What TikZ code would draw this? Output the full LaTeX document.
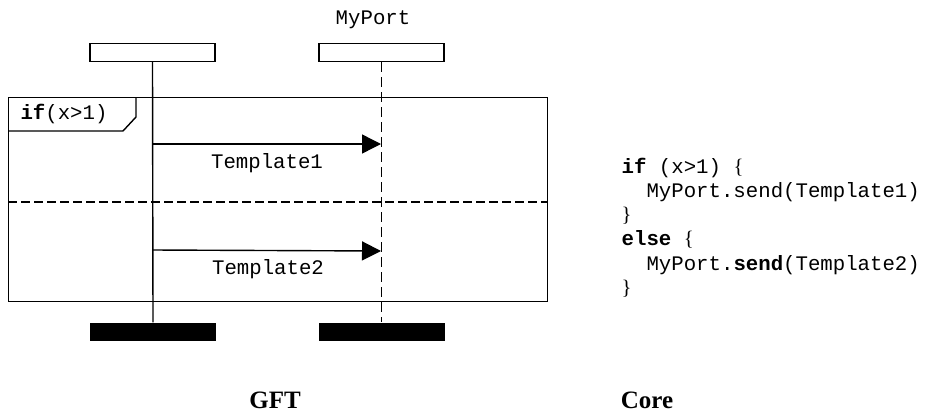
\documentclass[tikz,border=0pt]{standalone}
\usepackage{fontspec}
\setmainfont{Liberation Serif}
\setmonofont{Liberation Mono}
\usetikzlibrary{arrows.meta}
\newcommand\codefont{\fontsize{20.7}{24.3}\selectfont\ttfamily}
\newcommand\capfont{\fontsize{25}{28}\selectfont\bfseries\rmfamily}
\newcommand\brc[1]{{\rmfamily#1}}
\tikzset{
  headbox/.style={draw,minimum width=125pt,minimum height=18pt,inner sep=0pt},
  endbar/.style={fill=black,minimum width=126pt,minimum height=18pt,inner sep=0pt},
  lifeline/.style={dash pattern=on 10pt off 5pt},
  divider/.style={dash pattern=on 9pt off 4pt},
  msg/.style={font=\codefont,inner sep=0pt},
}
\begin{document}
\begin{tikzpicture}[x=1pt,y=-1pt,line width=1.4pt,>={Triangle[length=19pt,width=19pt]}]
\useasboundingbox (0,0) rectangle (925,412);
% instances
\node[msg] (portname) at (373,20) {MyPort};
\node[headbox] (lhead) at (152.5,52.5) {};
\node[headbox] (phead) at (381.5,52.5) {};
\node[endbar] (lend) at (153,332) {};
\node[endbar] (pend) at (381.5,332) {};
% frame with if-label
\node[draw,anchor=north west,minimum width=539pt,minimum height=204pt,inner sep=0pt] (frame) at (8,97) {};
\draw (frame.west |- 0,131) -- (123,131) -- (136,117) -- (136,0 |- frame.north);
\node[msg] (cond) at (64,114) {\textbf{if}(x>1)};
\draw[divider] (frame.west |- 0,202) -- (frame.east |- 0,202);
% lifelines
\draw (lhead.south) -- (lend.north);
\draw[lifeline] (phead.south) -- (pend.north);
% messages
\coordinate (s1) at (153,144);
\coordinate (r1) at (381,144);
\coordinate (s2) at (152,250);
\coordinate (r2) at (381,251);
\draw[->] (s1) -- (r1);
\draw[->] (s2) -- (r2);
\node[msg] (tmpl1) at (267,163) {Template1};
\node[msg] (tmpl2) at (268,269) {Template2};
% core text
\node[anchor=north west,align=left,inner sep=0pt,font=\codefont] (core) at (621,157) {%
\textbf{if}\ (x>1)\ \brc{\{}\\
\phantom{xx}MyPort.send(Template1)\\
\brc{\}}\\
\textbf{else}\ \brc{\{}\\
\phantom{xx}MyPort.\textbf{send}(Template2)\\
\brc{\}}};
% captions
\node[font=\capfont] (gft) at (275,400) {GFT};
\node[font=\capfont] (corecap) at (647,400) {Core};
\end{tikzpicture}
\end{document}
